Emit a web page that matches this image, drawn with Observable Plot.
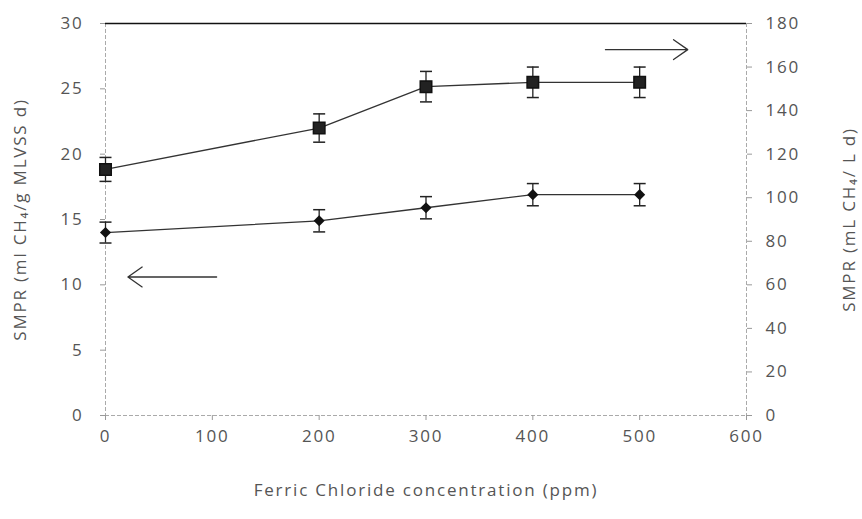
<!DOCTYPE html>
<html><head><meta charset="utf-8">
<script src="https://cdn.jsdelivr.net/npm/d3@7"></script>
<script src="https://cdn.jsdelivr.net/npm/@observablehq/plot@0.6"></script>
<style>body{margin:0;background:#fff;} svg text{letter-spacing:1.8px;}</style>
</head><body><div id="chart"></div>
<script>
const conc = [0, 200, 300, 400, 500];
// right-axis series (mL CH4 / L d), squares
const volRate = [113, 132, 151, 153, 153];
const volErr = [5.5, 6.5, 7, 7, 7];
// left-axis series (ml CH4 / g MLVSS d), diamonds
const specRate = [14, 14.9, 15.9, 16.9, 16.9];
const specErr = [0.8, 0.85, 0.85, 0.85, 0.85];
const leftTicks = [0, 5, 10, 15, 20, 25, 30];
const rightTicks = [0, 20, 40, 60, 80, 100, 120, 140, 160, 180];
const xTicks = [0, 100, 200, 300, 400, 500, 600];
const ratio = 6; // right axis / left axis
const arrows = [
  {x1: 104, x2: 21, y: 10.6},
  {x1: 468, x2: 545, y: 28.0}
];

const sq = conc.map((c, i) => ({x: c, y: volRate[i] / ratio, e: volErr[i] / ratio}));
const dm = conc.map((c, i) => ({x: c, y: specRate[i], e: specErr[i]}));
const font = "'Open Sans', sans-serif";
const ink = "#555";
const cap = {draw(ctx, size) { const w = Math.sqrt(size / Math.PI); ctx.moveTo(-w, 0); ctx.lineTo(w, 0); }};
const caps = (arr) => arr.flatMap(d => [{x: d.x, y: d.y - d.e}, {x: d.x, y: d.y + d.e}]);

const chart = Plot.plot({
  width: 862, height: 519,
  marginLeft: 105, marginRight: 116, marginTop: 23, marginBottom: 104,
  style: {fontFamily: font, fontSize: "17px", color: ink, background: "#fff"},
  x: {type: "linear", domain: [0, 600]},
  y: {type: "linear", domain: [0, 30]},
  marks: [
    Plot.ruleX([0, 600], {stroke: "#aaa", strokeDasharray: "4,2"}),
    Plot.ruleY([0], {stroke: "#aaa", strokeDasharray: "4,2"}),
    Plot.ruleY([30], {stroke: "#111", strokeWidth: 1.5}),
    Plot.axisX(xTicks, {tickSize: 5, tickPadding: 9, stroke: "#999", fill: ink,
      label: "Ferric Chloride concentration (ppm)", labelAnchor: "center", labelOffset: 80, labelArrow: "none"}),
    Plot.axisY(leftTicks, {anchor: "left", tickSize: 5, tickPadding: 17, stroke: "#999", fill: ink,
      label: "SMPR (ml CH₄/g MLVSS d)", labelAnchor: "center", labelOffset: 92, labelArrow: "none"}),
    Plot.axisY(rightTicks.map(v => v / ratio), {anchor: "right", tickSize: 5, tickPadding: 14, stroke: "#999", fill: ink,
      tickFormat: d => String(Math.round(d * ratio)),
      label: "SMPR (mL CH₄/ L d)", labelAnchor: "center", labelOffset: 108, labelArrow: "none"}),
    Plot.line(sq, {x: "x", y: "y", stroke: "#333", strokeWidth: 1.3}),
    Plot.line(dm, {x: "x", y: "y", stroke: "#333", strokeWidth: 1.3}),
    Plot.ruleX(sq, {x: "x", y1: d => d.y - d.e, y2: d => d.y + d.e, stroke: "#222", strokeWidth: 1.3}),
    Plot.ruleX(dm, {x: "x", y1: d => d.y - d.e, y2: d => d.y + d.e, stroke: "#222", strokeWidth: 1.3}),
    Plot.dot(caps(sq).concat(caps(dm)), {x: "x", y: "y", symbol: cap, r: 6, stroke: "#222", strokeWidth: 1.5, fill: "none"}),
    Plot.dot(sq, {x: "x", y: "y", symbol: "square", r: 6.5, fill: "#222", stroke: "#111"}),
    Plot.dot(dm, {x: "x", y: "y", symbol: "diamond2", r: 5, fill: "#111"}),
    Plot.arrow(arrows, {x1: "x1", x2: "x2", y1: "y", y2: "y", stroke: "#333", strokeWidth: 1.3, headLength: 20, headAngle: 70})
  ]
});
document.getElementById("chart").appendChild(chart);
</script>
</body></html>
